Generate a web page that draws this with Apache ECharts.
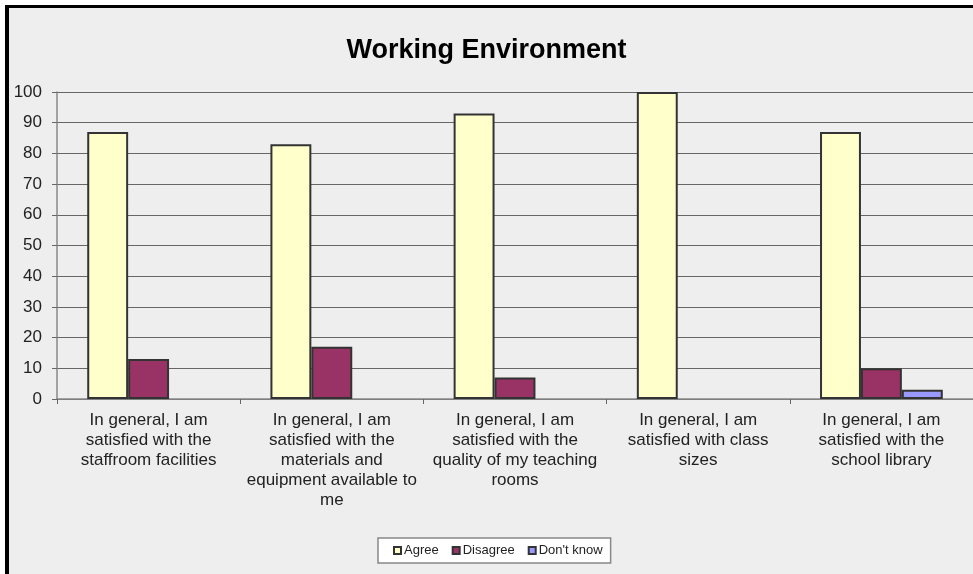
<!DOCTYPE html>
<html>
<head>
<meta charset="utf-8">
<script src="https://cdn.jsdelivr.net/npm/echarts@6/dist/echarts.min.js"></script>
<style>
html, body { margin: 0; padding: 0; background: #fff; }
#chart { width: 973px; height: 574px; }
</style>
</head>
<body>
<div id="chart"></div>
<script>
// categories (already wrapped like the original labels)
var categories = [
  'In general, I am\nsatisfied with the\nstaffroom facilities',
  'In general, I am\nsatisfied with the\nmaterials and\nequipment available to\nme',
  'In general, I am\nsatisfied with the\nquality of my teaching\nrooms',
  'In general, I am\nsatisfied with class\nsizes',
  'In general, I am\nsatisfied with the\nschool library'
];
var agree = [87, 83, 93, 100, 87];
var disagree = [13, 17, 7, 0, 10];
var dontKnow = [0, 0, 0, 0, 3];
var yTicks = [0, 10, 20, 30, 40, 50, 60, 70, 80, 90, 100];

var chart = echarts.init(document.getElementById('chart'));

function barSeries(name, data, color) {
  return {
    name: name,
    type: 'bar',
    // zero bars are not drawn (no border line on the axis)
    data: data.map(function (v) { return v === 0 ? '-' : v; }),
    barGap: '0%',
    barCategoryGap: '33%',
    itemStyle: { color: color, borderColor: '#333', borderWidth: 2 }
  };
}

var option = {
  backgroundColor: '#eeeeee',
  animation: false,
  textStyle: { fontFamily: 'Arial, "Liberation Sans", sans-serif' },
  title: {
    text: 'Working Environment',
    left: 'center',
    top: 32,
    textStyle: { fontSize: 27, fontWeight: 'bold', color: '#000' }
  },
  legend: {
    left: 378,
    top: 538,
    padding: [6, 8, 6, 15],
    backgroundColor: '#fff',
    borderColor: '#888',
    borderWidth: 1.5,
    itemWidth: 7,
    itemHeight: 7,
    itemGap: 13,
    icon: 'rect',
    textStyle: { fontSize: 13, color: '#222', padding: [0, 0, 0, -2] },
    data: ['Agree', 'Disagree', "Don't know"]
  },
  grid: { left: 57, top: 92, right: -4, bottom: 175 },
  xAxis: {
    type: 'category',
    data: categories,
    axisLine: { lineStyle: { color: '#888', width: 1.5 } },
    axisTick: { show: true, length: 5, lineStyle: { color: '#666' } },
    axisLabel: { fontSize: 17, lineHeight: 20, color: '#222', margin: 11, interval: 0 },
    splitLine: { show: false }
  },
  yAxis: {
    type: 'value',
    min: 0,
    max: 100,
    interval: 10,
    axisLine: { show: true, lineStyle: { color: '#888', width: 1.5 } },
    axisTick: { show: true, length: 5, lineStyle: { color: '#666' } },
    axisLabel: {
      fontSize: 17, color: '#222', margin: 15,
      formatter: function (v) { return yTicks.indexOf(v) >= 0 ? String(v) : ''; }
    },
    splitLine: { lineStyle: { color: '#666', width: 1 } }
  },
  series: [
    barSeries('Agree', agree, '#ffffcc'),
    barSeries('Disagree', disagree, '#993366'),
    barSeries("Don't know", dontKnow, '#9999ff')
  ],
  graphic: [
    { type: 'rect', shape: { x: 0, y: 0, width: 973, height: 5 }, style: { fill: '#fff' }, silent: true },
    { type: 'rect', shape: { x: 0, y: 0, width: 5, height: 574 }, style: { fill: '#fff' }, silent: true },
    { type: 'rect', shape: { x: 5, y: 5, width: 968, height: 3 }, style: { fill: '#000' }, silent: true },
    { type: 'rect', shape: { x: 5, y: 5, width: 4, height: 569 }, style: { fill: '#000' }, silent: true }
  ]
};

chart.setOption(option);
</script>
</body>
</html>
